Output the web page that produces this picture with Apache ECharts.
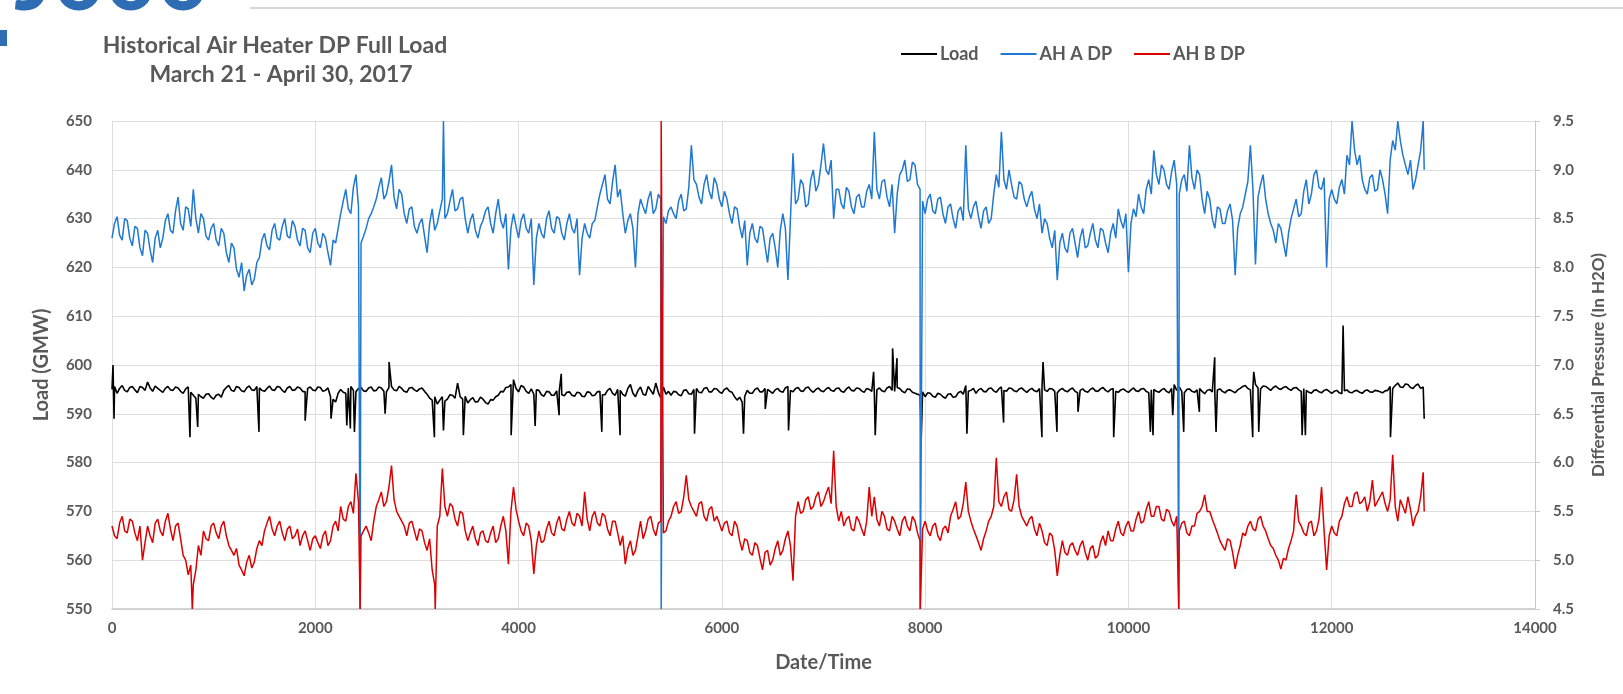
<!DOCTYPE html>
<html>
<head>
<meta charset="utf-8">
<script src="https://cdn.jsdelivr.net/npm/echarts@6/dist/echarts.min.js"></script>
<style>
html,body{margin:0;padding:0;background:#fff;}
#chart{width:1623px;height:694px;}
</style>
</head>
<body>
<div id="chart"></div>
<script>
// ---- data ----
const titleLines = ['Historical Air Heater DP Full Load', 'March 21 - April 30, 2017'];
const seriesNames = ['Load', 'AH A DP', 'AH B DP'];
const xTicks = [0, 2000, 4000, 6000, 8000, 10000, 12000, 14000];
const sampleStep = 50; // main samples at Date/Time = 0, 50, 100, ... ; mid samples at 25, 75, ...

const loadVals = [
  595.0,594.2,595.8,594.5,595.6,594.3,595.4,596.5,594.6,595.2,
  594.4,595.6,594.8,595.3,594.2,595.5,593.8,594.0,593.2,594.1,
  593.0,594.0,594.8,595.8,594.6,595.4,594.5,595.7,594.8,595.3,
  594.6,595.7,594.8,595.5,594.4,595.6,594.9,595.3,594.5,595.5,
  594.7,595.4,594.8,593.5,592.4,595.0,594.2,595.6,594.5,595.4,
  594.6,595.5,594.8,595.3,594.5,595.6,594.7,595.2,594.4,595.4,
  594.6,595.3,594.0,592.8,592.0,593.5,593.0,593.8,596.3,593.0,
  592.2,593.3,592.5,593.0,592.0,592.8,593.8,594.5,595.5,597.0,
  594.5,595.5,594.2,594.0,594.8,593.6,594.5,593.8,594.6,593.7,
  594.5,593.6,594.3,593.5,594.4,593.8,594.6,593.9,595.2,593.8,
  594.8,593.6,596.0,593.5,595.5,593.8,594.8,596.3,593.2,594.0,
  593.8,594.5,593.7,594.9,594.0,595.2,594.3,595.4,594.5,595.1,
  594.2,595.3,594.4,592.8,592.4,594.8,594.2,595.3,594.5,595.0,
  594.2,595.2,594.4,595.6,594.5,595.4,594.6,595.5,594.4,595.3,
  594.5,595.4,594.6,595.3,594.4,595.5,594.7,595.2,594.4,595.0,
  594.3,595.3,594.5,595.6,594.6,595.2,594.3,595.0,594.2,593.8,
  593.5,594.2,593.4,594.0,593.2,594.1,593.5,594.6,595.8,594.8,
  594.2,595.2,594.5,595.3,594.4,595.5,594.6,595.2,594.5,595.3,
  594.4,595.2,594.5,595.6,594.6,595.1,594.3,595.2,594.5,595.3,
  594.3,595.1,594.4,595.3,594.6,595.4,594.5,595.2,594.4,595.1,
  594.4,595.3,594.6,595.2,594.3,595.0,594.4,595.2,594.3,596.0,
  595.5,594.3,595.1,594.4,595.2,594.1,595.0,594.2,595.1,594.3,
  594.9,594.3,595.2,595.8,594.9,596.0,595.1,595.6,594.8,595.7,
  595.0,595.6,594.8,595.4,594.6,594.8,594.2,594.9,594.3,595.0,
  594.2,594.8,594.1,594.9,594.3,594.8,594.2,594.9,594.4,594.7,
  594.3,594.8,595.2,596.3,595.4,596.0,595.2,596.1,595.5
];
const loadMid = [
  595.6,595.2,594.8,595.4,594.9,595.6,594.8,595.3,595.7,594.8,
  595.2,594.9,595.5,594.6,595.1,594.4,593.2,593.5,594.0,593.4,
  593.8,593.4,595.4,594.8,595.6,594.7,595.3,594.9,595.6,594.8,
  595.2,594.9,595.6,594.8,595.3,594.8,595.5,594.6,595.2,594.9,
  595.5,594.6,595.3,593.0,594.2,594.4,595.3,594.8,595.2,594.7,
  595.3,594.7,595.5,594.6,595.4,594.9,595.6,594.6,595.3,594.9,
  595.1,594.6,593.2,593.5,592.8,592.6,593.9,593.2,593.5,593.6,
  592.9,592.4,593.4,592.3,592.9,593.5,594.6,595.4,596.0,595.2,
  595.8,594.6,595.1,594.9,593.9,594.6,593.8,594.7,593.9,594.4,
  593.8,594.4,593.6,594.5,593.7,594.5,593.9,594.8,594.2,595.0,
  594.0,595.2,594.2,594.8,594.0,595.6,594.0,594.4,595.5,594.6,
  594.6,593.9,594.8,594.1,595.0,594.4,595.2,594.5,595.2,594.5,
  595.0,594.6,593.5,593.4,593.6,594.2,595.0,594.5,595.2,594.6,
  594.9,594.6,595.3,594.8,595.2,594.7,595.3,594.8,595.0,594.7,
  595.1,594.8,595.2,594.6,595.1,594.8,595.3,594.7,595.2,594.6,
  594.9,594.7,595.3,594.8,595.4,594.6,595.1,594.4,594.0,594.5,
  594.3,593.6,594.2,593.5,594.0,593.4,594.3,594.0,594.6,595.2,
  594.9,594.6,595.2,594.7,595.1,594.8,595.3,594.7,595.1,594.8,
  594.9,594.7,595.2,594.9,595.2,594.6,594.9,594.7,595.0,594.6,
  594.8,594.6,595.0,594.7,595.1,594.8,595.0,594.6,594.9,594.7,
  594.9,594.7,595.1,594.6,594.9,594.6,594.9,594.6,595.2,594.8,
  594.6,595.0,594.6,594.9,594.6,594.8,594.5,594.9,594.6,594.8,
  594.6,594.9,595.6,595.2,595.5,595.3,595.7,595.2,595.4,595.2,
  595.4,595.1,595.3,594.9,595.2,594.4,594.8,594.5,594.8,594.6,
  594.6,594.3,594.7,594.4,594.7,594.4,594.7,594.5,594.8,594.5,
  594.7,595.6,595.8,595.5,596.1,595.4,595.8,595.2
];
const ahaVals = [
  8.30,8.52,8.28,8.48,8.22,8.40,8.12,8.35,8.05,8.38,
  8.30,8.55,8.35,8.72,8.38,8.60,8.80,8.35,8.50,8.28,
  8.45,8.22,8.35,8.05,8.20,7.90,7.76,7.98,7.88,8.10,
  8.35,8.18,8.45,8.28,8.50,8.30,8.42,8.22,8.38,8.15,
  8.40,8.20,8.30,8.02,8.25,8.55,8.80,8.55,8.95,8.25,
  8.40,8.55,8.70,8.92,8.75,9.05,8.60,8.75,8.45,8.62,
  8.35,8.50,8.15,8.60,8.45,8.70,8.55,8.80,8.60,8.72,
  8.35,8.55,8.30,8.48,8.62,8.35,8.70,8.40,7.98,8.55,
  8.30,8.55,8.35,7.82,8.45,8.30,8.58,8.35,8.50,8.28,
  8.55,8.35,7.92,8.45,8.30,8.48,8.75,8.95,8.65,9.05,
  8.80,8.35,8.55,8.00,8.70,8.55,8.78,8.60,8.70,8.45,
  8.62,8.50,8.75,8.60,9.25,8.85,8.65,8.95,8.70,8.85,
  8.62,8.70,8.45,8.60,8.30,8.02,8.45,8.25,8.40,8.05,
  8.35,8.00,8.55,7.87,9.17,8.70,8.85,8.65,9.00,8.85,
  9.27,8.95,8.50,8.80,8.60,8.78,8.55,8.75,8.62,8.85,
  9.39,8.70,8.90,8.62,8.35,8.95,9.10,8.90,9.05,8.80,
  8.55,8.75,8.55,8.72,8.45,8.65,8.40,8.62,9.25,8.50,
  8.68,8.40,8.62,8.50,8.95,9.39,8.80,8.85,8.70,8.85,
  8.62,8.78,8.50,8.35,8.45,8.20,7.87,8.35,8.15,8.40,
  8.10,8.40,8.22,8.45,8.20,8.38,8.15,8.45,8.60,8.40,
  7.95,8.60,8.75,8.55,8.90,9.20,8.85,9.00,8.80,9.10,
  8.75,8.95,9.25,8.80,8.95,8.55,8.70,8.40,8.60,8.45,
  8.65,7.92,8.55,8.75,9.25,8.03,8.85,8.70,8.45,8.25,
  8.40,8.11,8.50,8.70,8.55,8.90,8.75,9.00,8.80,8.00,
  8.80,8.65,8.90,9.15,9.50,9.05,8.90,8.75,8.95,8.80,
  8.90,8.55,9.30,9.50,9.15,8.95,8.80,9.05,9.50
];
const ahaMid = [
  8.45,8.33,8.50,8.30,8.42,8.20,8.38,8.18,8.30,8.20,
  8.48,8.38,8.58,8.45,8.62,8.42,8.50,8.55,8.32,8.40,
  8.28,8.40,8.15,8.25,7.98,8.05,7.92,7.82,8.05,8.28,
  8.22,8.38,8.30,8.42,8.32,8.48,8.28,8.40,8.20,8.35,
  8.25,8.35,8.15,8.28,8.40,8.68,8.60,8.82,8.62,8.32,
  8.50,8.62,8.82,8.70,8.88,8.72,8.80,8.55,8.60,8.42,
  8.45,8.32,8.45,8.38,8.58,8.50,8.68,8.58,8.70,8.50,
  8.48,8.38,8.42,8.58,8.45,8.55,8.48,8.55,8.40,8.42,
  8.48,8.40,8.50,8.30,8.35,8.50,8.40,8.52,8.35,8.45,
  8.40,8.50,8.30,8.35,8.45,8.62,8.85,8.70,8.88,8.72,
  8.55,8.48,8.40,8.55,8.62,8.70,8.55,8.75,8.52,8.58,
  8.55,8.68,8.58,8.82,8.90,8.72,8.85,8.78,8.92,8.70,
  8.78,8.55,8.62,8.42,8.48,8.35,8.30,8.42,8.22,8.30,
  8.20,8.38,8.40,8.50,8.65,8.90,8.62,8.90,8.78,9.05,
  9.00,9.10,8.80,8.65,8.82,8.62,8.72,8.62,8.78,8.70,
  8.80,8.88,8.72,8.85,8.75,9.00,8.88,9.08,8.85,8.68,
  8.70,8.58,8.70,8.55,8.62,8.50,8.58,8.48,8.60,8.62,
  8.52,8.58,8.45,8.75,8.82,8.90,9.00,8.72,8.88,8.70,
  8.72,8.60,8.65,8.50,8.30,8.38,8.25,8.20,8.35,8.25,
  8.30,8.20,8.35,8.28,8.40,8.25,8.35,8.30,8.48,8.55,
  8.45,8.52,8.62,8.80,8.75,8.95,9.05,8.85,8.98,8.85,
  8.90,8.78,8.92,9.00,8.70,8.78,8.50,8.62,8.45,8.58,
  8.48,8.40,8.62,8.88,8.80,8.72,8.95,8.55,8.38,8.45,
  8.25,8.35,8.60,8.52,8.78,8.65,8.95,8.82,8.92,8.70,
  8.70,8.82,8.75,9.05,9.20,9.15,8.80,8.92,8.78,9.00,
  8.75,9.10,9.20,9.30,9.05,9.10,8.90,9.20
];
const ahbVals = [
  5.35,5.22,5.45,5.28,5.40,5.20,5.00,5.35,5.18,5.42,
  5.25,5.48,5.20,5.38,5.05,4.85,4.75,5.15,5.30,5.20,
  5.38,5.22,5.40,5.15,5.05,4.95,4.84,5.05,4.98,5.20,
  5.30,5.45,5.25,5.40,5.20,5.35,5.25,5.15,5.30,5.10,
  5.25,5.12,5.30,5.20,5.40,5.55,5.40,5.60,5.89,5.25,
  5.35,5.20,5.55,5.70,5.60,5.97,5.50,5.40,5.25,5.40,
  5.20,5.30,5.10,4.90,5.35,5.94,5.45,5.55,5.35,5.48,
  5.20,5.35,5.15,5.30,5.18,5.35,5.22,5.45,4.96,5.75,
  5.40,5.25,5.35,4.86,5.30,5.20,5.40,5.25,5.45,5.30,
  5.50,5.35,5.45,5.70,5.30,5.50,5.35,5.45,5.25,5.40,
  5.15,4.96,5.20,5.10,5.40,5.30,5.45,5.25,5.40,5.30,
  5.45,5.60,5.50,5.87,5.55,5.45,5.60,5.40,5.55,5.45,
  5.30,5.40,5.25,5.35,5.10,5.20,5.05,5.15,4.90,5.10,
  5.00,5.20,5.10,5.30,4.79,5.60,5.50,5.65,5.55,5.70,
  5.60,5.75,6.12,5.40,5.35,5.45,5.30,5.40,5.25,5.75,
  5.65,5.35,5.45,5.30,5.40,5.25,5.45,5.30,5.40,5.20,
  5.40,5.25,5.38,5.20,5.35,5.45,5.60,5.45,5.80,5.40,
  5.25,5.10,5.30,5.45,6.05,5.55,5.70,5.50,5.88,5.45,
  5.35,5.45,5.25,5.30,5.15,5.25,4.84,5.20,5.05,5.18,
  5.05,5.20,5.00,5.15,5.05,5.25,5.30,5.20,5.40,5.25,
  5.40,5.30,5.50,5.40,5.60,5.45,5.55,5.40,5.50,5.35,
  5.30,5.40,5.25,5.35,5.50,5.67,5.50,5.35,5.20,5.10,
  5.20,4.91,5.15,5.25,5.40,5.30,5.45,5.30,5.15,5.05,
  4.91,5.00,5.20,5.67,5.35,5.25,5.40,5.30,5.75,4.90,
  5.35,5.25,5.45,5.65,5.55,5.70,5.60,5.50,5.82,5.60,
  5.70,5.50,6.08,5.40,5.55,5.65,5.35,5.50,5.90
];
const ahbMid = [
  5.25,5.38,5.30,5.42,5.28,5.35,5.18,5.25,5.38,5.30,
  5.40,5.32,5.35,5.22,5.00,4.95,4.90,5.05,5.22,5.35,
  5.28,5.35,5.25,5.10,5.12,4.90,4.98,4.92,5.12,5.15,
  5.38,5.32,5.35,5.28,5.32,5.22,5.32,5.25,5.20,5.22,
  5.18,5.25,5.15,5.35,5.30,5.42,5.55,5.48,5.60,5.30,
  5.28,5.40,5.62,5.55,5.75,5.62,5.45,5.35,5.38,5.30,
  5.32,5.18,5.22,4.75,5.45,5.55,5.58,5.42,5.50,5.30,
  5.28,5.22,5.28,5.20,5.28,5.18,5.35,5.30,5.50,5.52,
  5.30,5.38,5.20,5.15,5.18,5.32,5.28,5.38,5.32,5.42,
  5.38,5.48,5.35,5.42,5.45,5.38,5.48,5.32,5.40,5.28,
  5.25,5.12,5.05,5.25,5.22,5.42,5.32,5.38,5.28,5.40,
  5.55,5.48,5.65,5.62,5.50,5.58,5.45,5.52,5.40,5.38,
  5.38,5.28,5.40,5.20,5.22,5.08,5.18,5.02,5.08,4.95,
  5.12,5.05,5.22,5.15,5.45,5.48,5.62,5.52,5.65,5.55,
  5.68,5.58,5.55,5.50,5.42,5.32,5.45,5.32,5.40,5.45,
  5.42,5.50,5.32,5.45,5.32,5.40,5.35,5.45,5.28,5.32,
  5.30,5.35,5.25,5.32,5.28,5.52,5.42,5.58,5.50,5.32,
  5.18,5.22,5.40,5.55,5.60,5.65,5.52,5.62,5.55,5.40,
  5.42,5.32,5.38,5.18,5.28,5.10,5.05,5.08,5.15,5.10,
  5.15,5.08,5.12,5.02,5.18,5.15,5.20,5.32,5.28,5.35,
  5.30,5.42,5.38,5.52,5.45,5.55,5.42,5.52,5.40,5.45,
  5.38,5.28,5.35,5.48,5.55,5.50,5.42,5.28,5.15,5.22,
  5.08,5.05,5.28,5.35,5.32,5.42,5.35,5.22,5.12,5.00,
  5.02,5.12,5.30,5.40,5.28,5.38,5.25,5.42,5.30,5.25,
  5.28,5.40,5.58,5.55,5.68,5.58,5.65,5.60,5.55,5.65,
  5.58,5.62,5.55,5.62,5.48,5.52,5.45,5.65
];
// isolated spikes / dropouts: [Date/Time, value]
const loadSpikes = [
  [10,600.0],[20,589.0],[767,585.2],[843,587.3],[1446,586.3],[1900,588.6],[2155,589.0],
  [2310,587.6],[2345,587.0],[2385,586.3],[2687,590.0],[2726,600.6],[3172,585.2],[3261,586.6],
  [3457,585.6],[3927,585.6],[4163,587.5],[4399,589.7],[4420,598.2],[4819,586.3],[4999,585.6],
  [5731,585.9],[6213,585.9],[6427,591.0],[6656,586.6],[7493,598.6],[7509,585.6],[7680,603.4],
  [7723,601.4],[7962,585.2],[8411,585.9],[8772,588.2],[9149,585.2],[9160,600.6],[9297,586.3],
  [9504,590.4],[9855,585.2],[10216,586.3],[10242,585.6],[10436,589.7],[10544,586.3],[10698,590.4],
  [10849,601.6],[10862,586.3],[11223,585.2],[11233,598.6],[11282,586.3],[11709,585.6],[11741,585.6],
  [12112,608.1],[12578,585.2],[12910,589.0]
];
const ahaSpikes = [[2441,4.5],[3261,9.5],[5403,4.5],[7952,4.5],[10495,4.5],[12910,9.0]];
const ahbSpikes = [[790,4.5],[2441,4.5],[3180,4.5],[5403,9.5],[7952,4.5],[10495,4.5],[12910,5.5]];

// ---- build series points ----
function buildPoints(vals, mids, spikes) {
  const pts = vals.map((v, i) => [i * sampleStep, v])
    .concat(mids.map((v, i) => [i * sampleStep + sampleStep / 2, v]))
    .concat(spikes.map(s => [s[0], s[1]]));
  pts.sort((a, b) => a[0] - b[0]);
  return pts;
}

const FONT = 'Lato, "Open Sans", sans-serif';
const GREY = '#595959';
const chart = echarts.init(document.getElementById('chart'), null, {renderer: 'canvas'});

chart.setOption({
  animation: false,
  backgroundColor: '#ffffff',
  graphic: [
    {type: 'rect', shape: {x: 0, y: 30, width: 7, height: 16}, style: {fill: '#2e6db4'}},
    {type: 'text', x: 14, y: -19, style: {text: 'J000', fontSize: 90, fontWeight: 'bold', fontFamily: FONT, fill: '#2e6db4', textVerticalAlign: 'middle', verticalAlign: 'middle'}},
    {type: 'line', shape: {x1: 250, y1: 8, x2: 1623, y2: 8}, style: {stroke: '#d6d6d6', lineWidth: 2}},
    {type: 'text', x: 275, y: 46, style: {text: titleLines[0], fontSize: 23, fontWeight: 'bold', fontFamily: FONT, fill: GREY, textAlign: 'center', align: 'center', textVerticalAlign: 'middle', verticalAlign: 'middle'}},
    {type: 'text', x: 281, y: 75, style: {text: titleLines[1], fontSize: 23, fontWeight: 'bold', fontFamily: FONT, fill: GREY, textAlign: 'center', align: 'center', textVerticalAlign: 'middle', verticalAlign: 'middle'}}
  ],
  legend: {
    data: seriesNames,
    left: 901,
    top: 45,
    padding: 0,
    itemGap: 22,
    itemWidth: 36,
    itemHeight: 2,
    icon: 'rect',
    textStyle: {fontFamily: FONT, fontSize: 18, fontWeight: 'bold', color: GREY, padding: [0, 0, 0, -2]}
  },
  grid: {left: 112, right: 88, top: 121, bottom: 85, containLabel: false},
  xAxis: {
    type: 'value', min: xTicks[0], max: xTicks[xTicks.length - 1], interval: 2000,
    name: 'Date/Time', nameLocation: 'middle', nameGap: 44,
    nameTextStyle: {fontFamily: FONT, fontSize: 20, fontWeight: 'bold', color: GREY},
    axisLine: {show: true, lineStyle: {color: '#c8c8c8', width: 1.5}},
    axisTick: {show: false},
    axisLabel: {margin: 12, fontFamily: FONT, fontSize: 15, fontWeight: 'bold', color: GREY,
      formatter: v => String(v)},
    splitLine: {show: true, lineStyle: {color: '#dedede', width: 1}}
  },
  yAxis: [
    {
      type: 'value', min: 550, max: 650, interval: 10, position: 'left',
      name: 'Load (GMW)', nameLocation: 'middle', nameGap: 60, nameRotate: 90,
      nameTextStyle: {fontFamily: FONT, fontSize: 20, fontWeight: 'bold', color: GREY},
      axisLine: {show: false}, axisTick: {show: false},
      axisLabel: {margin: 20, fontFamily: FONT, fontSize: 15, fontWeight: 'bold', color: GREY},
      splitLine: {show: true, lineStyle: {color: '#dedede', width: 1}}
    },
    {
      type: 'value', min: 4.5, max: 9.5, interval: 0.5, position: 'right',
      name: 'Differential Pressure (In H2O)', nameLocation: 'middle', nameGap: 55, nameRotate: 90,
      nameTextStyle: {fontFamily: FONT, fontSize: 17, fontWeight: 'bold', color: GREY},
      axisLine: {show: true, lineStyle: {color: '#c8c8c8', width: 1}},
      axisTick: {show: true, length: 5, lineStyle: {color: '#c8c8c8'}},
      axisLabel: {margin: 18, fontFamily: FONT, fontSize: 15, fontWeight: 'bold', color: GREY,
        formatter: v => v.toFixed(1)},
      splitLine: {show: false}
    }
  ],
  series: [
    {name: seriesNames[0], type: 'line', yAxisIndex: 0, data: buildPoints(loadVals, loadMid, loadSpikes),
      showSymbol: false, symbol: 'none', lineStyle: {color: '#000000', width: 1.6}, itemStyle: {color: '#000000'}},
    {name: seriesNames[1], type: 'line', yAxisIndex: 1, data: buildPoints(ahaVals, ahaMid, ahaSpikes),
      showSymbol: false, symbol: 'none', lineStyle: {color: '#1f78d1', width: 1.5}, itemStyle: {color: '#1f78d1'}},
    {name: seriesNames[2], type: 'line', yAxisIndex: 1, data: buildPoints(ahbVals, ahbMid, ahbSpikes),
      showSymbol: false, symbol: 'none', lineStyle: {color: '#dd0000', width: 1.5}, itemStyle: {color: '#dd0000'}}
  ]
});
</script>
</body>
</html>
